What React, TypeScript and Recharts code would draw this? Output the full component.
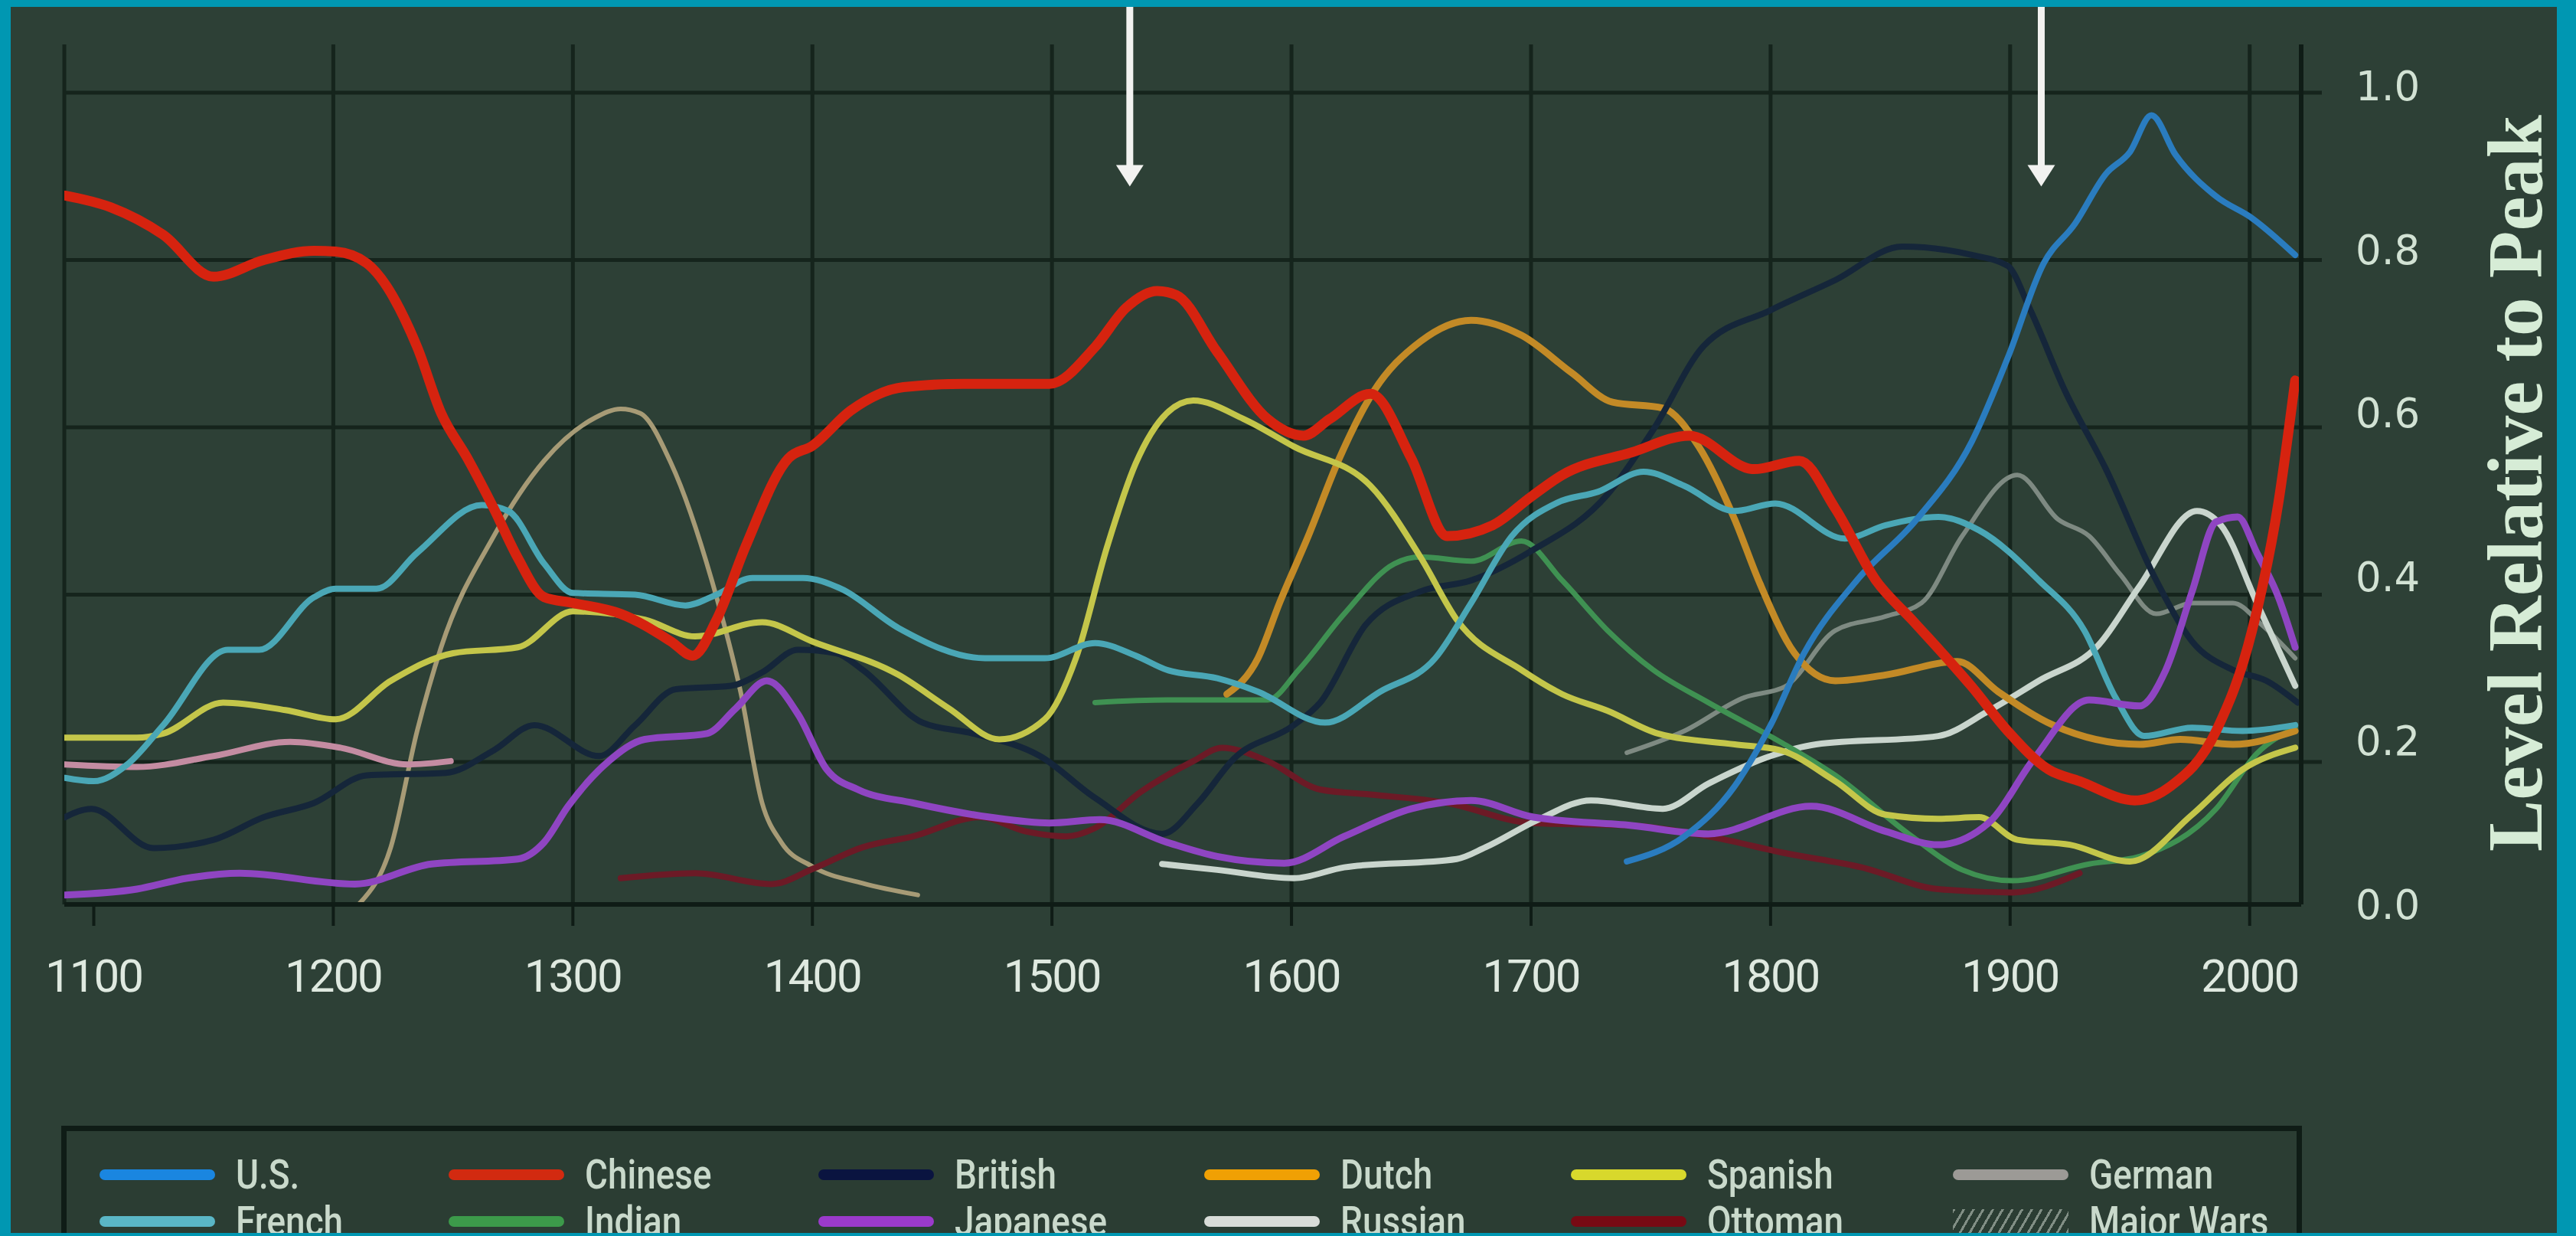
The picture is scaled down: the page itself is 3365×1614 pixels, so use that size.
import React from "react";
import { LineChart, Line, XAxis, YAxis, CartesianGrid, ReferenceLine } from "recharts";

type Pt = [number, number];

// years on the x axis, values relative to peak
const X_TICKS = [1100, 1200, 1300, 1400, 1500, 1600, 1700, 1800, 1900, 2000];
const GRID_YEARS = [1200, 1300, 1400, 1500, 1600, 1700, 1800, 1900, 2000];
const V_GRID = [0.2, 0.4, 0.6, 0.8, 1.0];
const V_LABELS = [0, 0.2, 0.4, 0.6, 0.8, 1.0];
const ARROW_YEARS = [1532.5, 1913];
const ARROW_TIP = 0.888;

const X_MIN = 1087.7;
const X_MAX = 2021.5;
const V_MIN = 0.0297;
const V_MAX = 1.0577;
const LABEL_MAX = 1.0505;

const chinese: Pt[] = [
  [1088, 0.877], [1107, 0.863], [1129, 0.83], [1150, 0.78], [1171, 0.8], [1192, 0.811], [1201, 0.81],
  [1214, 0.796], [1235, 0.696], [1245, 0.617], [1256, 0.563], [1267, 0.503], [1277, 0.444], [1288, 0.397],
  [1300, 0.39], [1320, 0.377], [1341, 0.344], [1350, 0.327], [1360, 0.37], [1372, 0.457], [1390, 0.563],
  [1400, 0.578], [1416, 0.62], [1438, 0.648], [1463, 0.652], [1499, 0.652], [1518, 0.696], [1531, 0.743],
  [1544, 0.763], [1552, 0.758], [1569, 0.69], [1590, 0.61], [1605, 0.59], [1616, 0.61], [1633, 0.64],
  [1650, 0.563], [1665, 0.47], [1684, 0.483], [1700, 0.517], [1713, 0.543], [1742, 0.57], [1766, 0.59],
  [1793, 0.55], [1812, 0.56], [1827, 0.503], [1844, 0.417], [1859, 0.37], [1884, 0.29], [1899, 0.237],
  [1916, 0.191], [1929, 0.177], [1952, 0.154], [1967, 0.171], [1986, 0.237], [2001, 0.357], [2012, 0.51],
  [2019, 0.656],
];

const spanish: Pt[] = [
  [1088, 0.229], [1118, 0.229], [1129, 0.234], [1154, 0.271], [1180, 0.262], [1201, 0.251], [1224, 0.297],
  [1250, 0.33], [1277, 0.337], [1300, 0.38], [1330, 0.37], [1351, 0.35], [1379, 0.367], [1400, 0.344],
  [1436, 0.304], [1457, 0.264], [1478, 0.227], [1497, 0.251], [1510, 0.324], [1523, 0.457], [1535, 0.557],
  [1548, 0.617], [1559, 0.632], [1580, 0.61], [1601, 0.577], [1633, 0.53], [1654, 0.444], [1669, 0.37],
  [1696, 0.31], [1713, 0.281], [1732, 0.261], [1753, 0.234], [1785, 0.221], [1804, 0.214], [1827, 0.177],
  [1848, 0.137], [1870, 0.132], [1887, 0.134], [1903, 0.107], [1925, 0.101], [1950, 0.081], [1976, 0.137],
  [1997, 0.191], [2019, 0.217],
];

const french: Pt[] = [
  [1088, 0.181], [1100, 0.177], [1114, 0.197], [1129, 0.244], [1156, 0.334], [1169, 0.334], [1192, 0.397],
  [1201, 0.407], [1218, 0.407], [1235, 0.45], [1262, 0.507], [1273, 0.5], [1288, 0.437], [1300, 0.402],
  [1326, 0.4], [1347, 0.387], [1360, 0.4], [1375, 0.42], [1396, 0.42], [1412, 0.407], [1436, 0.36],
  [1472, 0.324], [1497, 0.324], [1518, 0.342], [1535, 0.327], [1548, 0.31], [1569, 0.3], [1586, 0.284],
  [1614, 0.247], [1637, 0.284], [1660, 0.324], [1675, 0.39], [1692, 0.47], [1711, 0.51], [1728, 0.523],
  [1747, 0.547], [1764, 0.53], [1785, 0.5], [1802, 0.509], [1831, 0.467], [1848, 0.483], [1870, 0.493],
  [1887, 0.477], [1912, 0.417], [1931, 0.357], [1944, 0.277], [1956, 0.231], [1976, 0.241], [1997, 0.237],
  [2019, 0.244],
];

const british: Pt[] = [
  [1088, 0.134], [1099, 0.144], [1125, 0.097], [1150, 0.107], [1171, 0.134], [1192, 0.151], [1214, 0.184],
  [1247, 0.187], [1267, 0.214], [1284, 0.244], [1311, 0.207], [1326, 0.244], [1343, 0.287], [1366, 0.291],
  [1379, 0.307], [1394, 0.334], [1410, 0.33], [1421, 0.31], [1446, 0.247], [1467, 0.234], [1495, 0.207],
  [1518, 0.157], [1546, 0.114], [1561, 0.151], [1576, 0.204], [1601, 0.244], [1612, 0.271], [1631, 0.364],
  [1654, 0.404], [1675, 0.417], [1700, 0.452], [1732, 0.52], [1751, 0.597], [1772, 0.697], [1800, 0.74],
  [1827, 0.776], [1855, 0.816], [1884, 0.806], [1899, 0.793], [1908, 0.743], [1923, 0.643], [1940, 0.55],
  [1961, 0.417], [1976, 0.344], [1993, 0.31], [2007, 0.297], [2020, 0.271],
];

const japanese: Pt[] = [
  [1088, 0.041], [1118, 0.048], [1139, 0.061], [1161, 0.067], [1209, 0.054], [1241, 0.078], [1277, 0.084],
  [1288, 0.104], [1298, 0.147], [1315, 0.201], [1330, 0.227], [1356, 0.234], [1368, 0.264], [1381, 0.297],
  [1394, 0.257], [1406, 0.191], [1419, 0.167], [1442, 0.151], [1474, 0.134], [1499, 0.127], [1520, 0.131],
  [1548, 0.104], [1569, 0.087], [1597, 0.079], [1622, 0.111], [1650, 0.144], [1675, 0.154], [1701, 0.134],
  [1742, 0.124], [1774, 0.114], [1817, 0.147], [1848, 0.117], [1870, 0.101], [1891, 0.127], [1910, 0.204],
  [1933, 0.274], [1954, 0.267], [1965, 0.31], [1976, 0.404], [1986, 0.487], [1995, 0.493], [2003, 0.45],
  [2012, 0.397], [2019, 0.337],
];

const mongol: Pt[] = [
  [1211, 0.031], [1224, 0.098], [1235, 0.237], [1245, 0.337], [1267, 0.47], [1288, 0.56], [1309, 0.611],
  [1320, 0.622], [1328, 0.617], [1341, 0.557], [1358, 0.417], [1370, 0.284], [1379, 0.151], [1387, 0.104],
  [1400, 0.075], [1421, 0.055], [1444, 0.041],
];

const pink: Pt[] = [
  [1088, 0.197], [1118, 0.194], [1150, 0.207], [1182, 0.224], [1203, 0.217], [1231, 0.197], [1249, 0.201],
];

const ottoman: Pt[] = [
  [1320, 0.061], [1351, 0.067], [1383, 0.054], [1400, 0.072], [1421, 0.098], [1442, 0.111], [1470, 0.134],
  [1489, 0.117], [1506, 0.111], [1518, 0.121], [1537, 0.164], [1559, 0.201], [1571, 0.217], [1590, 0.201],
  [1612, 0.167], [1633, 0.161], [1665, 0.151], [1700, 0.127], [1742, 0.124], [1774, 0.111], [1806, 0.091],
  [1838, 0.074], [1870, 0.048], [1901, 0.044], [1929, 0.067],
];

const indian: Pt[] = [
  [1518, 0.271], [1548, 0.274], [1590, 0.274], [1603, 0.31], [1622, 0.377], [1643, 0.437], [1654, 0.445],
  [1675, 0.44], [1696, 0.464], [1713, 0.417], [1732, 0.357], [1751, 0.31], [1774, 0.271], [1804, 0.224],
  [1827, 0.184], [1859, 0.111], [1880, 0.071], [1901, 0.058], [1933, 0.078], [1954, 0.087], [1986, 0.144],
  [2003, 0.21], [2019, 0.241],
];

const dutch: Pt[] = [
  [1573, 0.281], [1586, 0.324], [1595, 0.39], [1607, 0.47], [1620, 0.563], [1633, 0.637], [1654, 0.703],
  [1675, 0.728], [1696, 0.71], [1717, 0.665], [1734, 0.63], [1755, 0.623], [1770, 0.577], [1785, 0.49],
  [1795, 0.417], [1810, 0.33], [1827, 0.297], [1848, 0.304], [1878, 0.32], [1895, 0.284], [1918, 0.244],
  [1954, 0.221], [1971, 0.227], [1993, 0.221], [2019, 0.237],
];

const us: Pt[] = [
  [1740, 0.081], [1764, 0.111], [1785, 0.171], [1800, 0.244], [1814, 0.33], [1836, 0.417], [1861, 0.49],
  [1884, 0.583], [1899, 0.683], [1914, 0.796], [1927, 0.843], [1940, 0.903], [1950, 0.929], [1959, 0.973],
  [1969, 0.926], [1986, 0.876], [2001, 0.85], [2019, 0.806],
];

const german: Pt[] = [
  [1740, 0.211], [1764, 0.237], [1789, 0.277], [1806, 0.29], [1827, 0.357], [1848, 0.374], [1863, 0.39],
  [1880, 0.47], [1903, 0.543], [1920, 0.49], [1933, 0.47], [1946, 0.424], [1961, 0.377], [1976, 0.39],
  [1993, 0.39], [2005, 0.364], [2019, 0.324],
];

const russian: Pt[] = [
  [1546, 0.078], [1569, 0.071], [1601, 0.061], [1622, 0.074], [1669, 0.084], [1681, 0.098], [1703, 0.131],
  [1725, 0.154], [1755, 0.144], [1774, 0.174], [1800, 0.207], [1819, 0.221], [1870, 0.231], [1891, 0.261],
  [1912, 0.297], [1937, 0.34], [1954, 0.41], [1978, 0.5], [1988, 0.483], [2003, 0.39], [2019, 0.291],
];

// draw order: back to front
const SERIES = [
  { name: "Mongol", pts: mongol, color: "#a79b76", width: 6 },
  { name: "Pink", pts: pink, color: "#c48ca2", width: 8 },
  { name: "Ottoman", pts: ottoman, color: "#6c1a26", width: 8 },
  { name: "German", pts: german, color: "#7e8a82", width: 6 },
  { name: "Russian", pts: russian, color: "#c9d5cd", width: 8 },
  { name: "Indian", pts: indian, color: "#3f9152", width: 7 },
  { name: "Dutch", pts: dutch, color: "#c38a26", width: 9 },
  { name: "British", pts: british, color: "#15263a", width: 8 },
  { name: "Spanish", pts: spanish, color: "#c4c64a", width: 8 },
  { name: "French", pts: french, color: "#4aa7b6", width: 8 },
  { name: "Japanese", pts: japanese, color: "#8f45c2", width: 9 },
  { name: "U.S.", pts: us, color: "#2a7cbf", width: 8 },
  { name: "Chinese", pts: chinese, color: "#d6230f", width: 13 },
];

const LEGEND_ROWS = [
  [
    { label: "U.S.", color: "#1a86e0" },
    { label: "Chinese", color: "#d22a10" },
    { label: "British", color: "#0a1440" },
    { label: "Dutch", color: "#f0a004" },
    { label: "Spanish", color: "#d8d82c" },
    { label: "German", color: "#9c9a96" },
  ],
  [
    { label: "French", color: "#5ab6c6" },
    { label: "Indian", color: "#3c9a4a" },
    { label: "Japanese", color: "#9a3acb" },
    { label: "Russian", color: "#d8dcd8" },
    { label: "Ottoman", color: "#780a14" },
    { label: "Major Wars", color: "hatch" },
  ],
];

const LEGEND_COLS = [130, 586, 1069, 1573, 2052, 2551];
const LEGEND_ROW_Y = [1534, 1595];

const BG = "#2d4036";
const GRID = "#15241c";
const AXIS = "#0f1c16";

function ArrowShape(p: any) {
  const x = p.x1;
  const tip = Math.max(p.y1, p.y2);
  return (
    <g>
      <line x1={x} y1={0} x2={x} y2={tip - 24} stroke="#f2f2f0" strokeWidth={9} />
      <polygon points={`${x - 18},${tip - 28} ${x + 18},${tip - 28} ${x},${tip}`} fill="#f2f2f0" />
    </g>
  );
}

// short stub of each horizontal grid line sticking out past the right border
function GridStub(p: any) {
  return <line x1={p.x2} y1={p.y2} x2={p.x2 + 27} y2={p.y2} stroke={GRID} strokeWidth={5} />;
}

function LegendSwatch({ color }: { color: string }) {
  if (color === "hatch") {
    return (
      <div
        style={{
          width: 151,
          height: 32,
          background:
            "repeating-linear-gradient(120deg, rgba(200,210,200,0.55) 0 3px, transparent 3px 11px)",
        }}
      />
    );
  }
  return <div style={{ width: 151, height: 14, borderRadius: 7, background: color }} />;
}

export default function App() {
  return (
    <div style={{ position: "fixed", left: 0, top: 0, width: 3365, height: 1614, background: "#0097b2" }}>
      <div
        style={{
          position: "absolute",
          left: 14,
          top: 9,
          width: 3326,
          height: 1601,
          background: BG,
          overflow: "hidden",
        }}
      >
        <div style={{ position: "absolute", left: -14, top: -9 }}>
          <LineChart width={3365} height={1614} margin={{ top: 58, left: 84, right: 132, bottom: 313 }}>
            <CartesianGrid
              yAxisId="v"
              stroke={GRID}
              strokeWidth={5}
              verticalValues={[X_MIN, ...GRID_YEARS]}
              horizontalValues={V_GRID}
            />
            <XAxis
              type="number"
              dataKey="year"
              domain={[X_MIN, X_MAX]}
              ticks={X_TICKS}
              allowDataOverflow
              height={120}
              tickSize={28}
              tickMargin={43}
              axisLine={{ stroke: AXIS, strokeWidth: 6 }}
              tickLine={{ stroke: AXIS, strokeWidth: 4 }}
              tick={{ fill: "#dfe9e0", fontSize: 60, fontFamily: "Roboto", letterSpacing: -2 }}
            />
            <YAxis yAxisId="v" type="number" domain={[V_MIN, V_MAX]} ticks={V_GRID} allowDataOverflow hide />
            <YAxis
              yAxisId="lbl"
              orientation="right"
              type="number"
              domain={[0, LABEL_MAX]}
              ticks={V_LABELS}
              allowDataOverflow
              width={227}
              tickSize={0}
              tickMargin={71}
              axisLine={{ stroke: AXIS, strokeWidth: 6 }}
              tickLine={false}
              tickFormatter={(v: number) => v.toFixed(1)}
              tick={{ fill: "#d2e2d4", fontSize: 53, fontFamily: "DejaVu Sans" }}
            />
            {V_GRID.map((v) => (
              <ReferenceLine key={v} yAxisId="v" y={v} shape={GridStub} />
            ))}
            {SERIES.map((s) => (
              <Line
                key={s.name}
                yAxisId="v"
                data={s.pts.map(([year, v]) => ({ year, v }))}
                dataKey="v"
                name={s.name}
                type="monotone"
                stroke={s.color}
                strokeWidth={s.width}
                strokeLinecap="round"
                strokeLinejoin="round"
                dot={false}
                activeDot={false}
                isAnimationActive={false}
              />
            ))}
            {ARROW_YEARS.map((yr) => (
              <ReferenceLine
                key={yr}
                yAxisId="v"
                segment={[
                  { x: yr, y: ARROW_TIP },
                  { x: yr, y: V_MAX },
                ]}
                ifOverflow="visible"
                shape={ArrowShape}
              />
            ))}
          </LineChart>
        </div>

        <div
          style={{
            position: "absolute",
            left: 3286 - 14,
            top: 631 - 9,
            transform: "translate(-50%, -50%) rotate(-90deg)",
            fontFamily: "'Liberation Serif', serif",
            fontWeight: 700,
            fontSize: 101,
            lineHeight: 1,
            color: "#d6ecd6",
            whiteSpace: "nowrap",
          }}
        >
          Level Relative to Peak
        </div>

        <div
          style={{
            position: "absolute",
            left: 80 - 14,
            top: 1470 - 9,
            width: 2927,
            height: 220,
            boxSizing: "border-box",
            border: `7px solid ${AXIS}`,
            background: "#2b3d33",
          }}
        />
        {LEGEND_ROWS.map((row, ri) =>
          row.map((item, ci) => (
            <div
              key={item.label}
              style={{
                position: "absolute",
                left: LEGEND_COLS[ci] - 14,
                top: LEGEND_ROW_Y[ri] - 9 - 27,
                height: 54,
                display: "flex",
                alignItems: "center",
              }}
            >
              <LegendSwatch color={item.color} />
              <span
                style={{
                  marginLeft: 27,
                  fontFamily: "Roboto",
                  fontWeight: 500,
                  fontSize: 54,
                  lineHeight: 1,
                  color: "#c9d9cb",
                  display: "inline-block",
                  transform: "scaleX(0.85)",
                  transformOrigin: "left center",
                  whiteSpace: "nowrap",
                }}
              >
                {item.label}
              </span>
            </div>
          ))
        )}
      </div>
    </div>
  );
}
